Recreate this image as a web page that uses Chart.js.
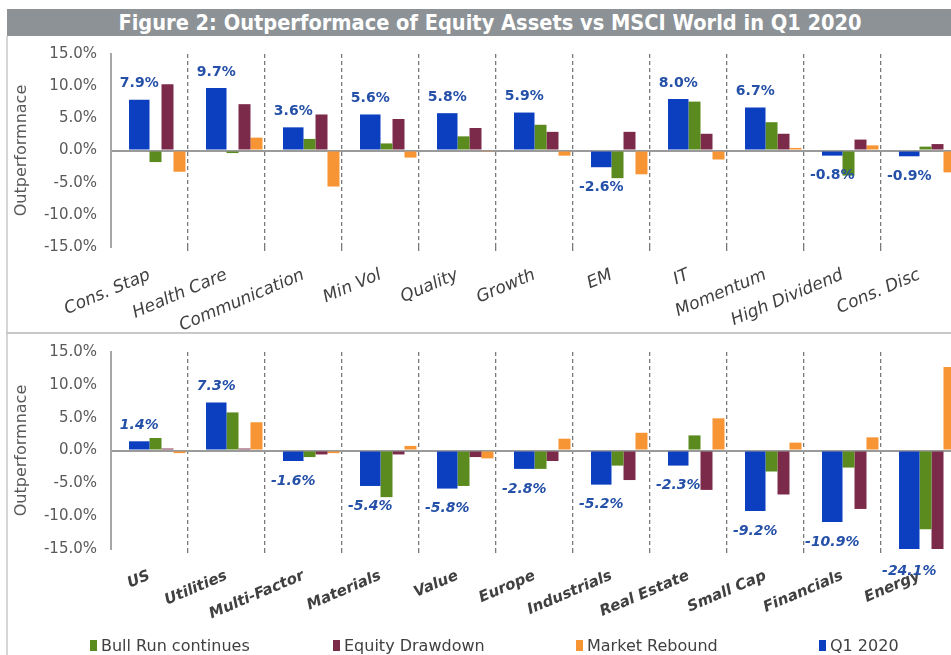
<!DOCTYPE html>
<html>
<head>
<meta charset="utf-8">
<script src="https://cdn.jsdelivr.net/npm/chart.js@4.4.1/dist/chart.umd.min.js"></script>
<style>
  html, body { margin: 0; padding: 0; background: #fff; width: 951px; height: 655px; overflow: hidden; position: relative; }
  #title { position: absolute; left: 7px; top: 9px; width: 966px; height: 27px; background: #8c9296; color: #fff;
           font: bold 21.6px "DejaVu Sans Condensed", "DejaVu Sans", sans-serif; text-align: center; line-height: 27px; }
  #leftline { position: absolute; left: 6px; top: 36px; width: 2px; height: 619px; background: #d6d6d6; }
  #divider { position: absolute; left: 6px; top: 332px; width: 945px; height: 2px; background: #c8c8c8; }
  canvas { position: absolute; left: 7px; }
  #topChart { top: 31px; }
  #bottomChart { top: 329px; }
  #legend { position: absolute; left: 90px; top: 636px; display: flex; }
  .item { width: 243px; display: flex; align-items: center; font: 16px "DejaVu Sans", sans-serif; color: #404040; }
  .box { width: 7px; height: 11px; margin-right: 4px; }
</style>
</head>
<body>
<div id="title">Figure 2: Outperformace of Equity Assets vs MSCI World in Q1 2020</div>
<div id="leftline"></div>
<div id="divider"></div>
<canvas id="topChart" width="951" height="302"></canvas>
<canvas id="bottomChart" width="951" height="300"></canvas>
<div id="legend"></div>
<script>
// series
const seriesNames = ['Q1 2020', 'Bull Run continues', 'Equity Drawdown', 'Market Rebound'];
const seriesColors = ['#0b3fc0', '#5b8a1f', '#7c2a49', '#f79433'];
const legendOrder = [1, 2, 3, 0];

// top panel
const topCats = ['Cons. Stap', 'Health Care', 'Communication', 'Min Vol', 'Quality', 'Growth', 'EM', 'IT', 'Momentum', 'High Dividend', 'Cons. Disc'];
const topQ1 = [7.9, 9.7, 3.6, 5.6, 5.8, 5.9, -2.6, 8.0, 6.7, -0.8, -0.9];
const topBull = [-1.8, -0.4, 1.8, 1.1, 2.2, 4.0, -4.3, 7.6, 4.4, -3.9, 0.6];
const topDrawdown = [10.3, 7.2, 5.6, 4.9, 3.5, 2.9, 2.9, 2.6, 2.6, 1.7, 1.0];
const topRebound = [-3.3, 2.0, -5.6, -1.1, -0.2, -0.8, -3.7, -1.4, 0.4, 0.8, -3.4];

// bottom panel
const bottomCats = ['US', 'Utilities', 'Multi-Factor', 'Materials', 'Value', 'Europe', 'Industrials', 'Real Estate', 'Small Cap', 'Financials', 'Energy'];
const bottomQ1 = [1.4, 7.3, -1.6, -5.4, -5.8, -2.8, -5.2, -2.3, -9.2, -10.9, -24.1];
const bottomBull = [1.9, 5.8, -1.0, -7.1, -5.4, -2.8, -2.3, 2.3, -3.2, -2.6, -12.0];
const bottomDrawdown = [0.3, 0.3, -0.6, -0.6, -1.0, -1.6, -4.5, -6.0, -6.7, -8.9, -15.6];
const bottomRebound = [-0.4, 4.3, -0.4, 0.7, -1.2, 1.8, 2.7, 4.9, 1.2, 2.0, 12.7];

const yTicks = [-15, -10, -5, 0, 5, 10, 15];

// draws the Q1 2020 value above / below each blue bar
const q1Labels = {
  id: 'q1Labels',
  afterDatasetsDraw(chart, args, opts) {
    const ctx = chart.ctx;
    const area = chart.chartArea;
    chart.data.datasets.forEach((ds, i) => {
      if (!ds.isQ1) return;
      const meta = chart.getDatasetMeta(i);
      ctx.save();
      ctx.fillStyle = '#2450a8';
      ctx.font = opts.font;
      ctx.textAlign = 'center';
      meta.data.forEach((bar, j) => {
        const v = ds.data[j];
        const txt = v.toFixed(1) + '%';
        if (v >= 0) {
          ctx.textBaseline = 'bottom';
          ctx.fillText(txt, bar.x, bar.y - 9);
        } else {
          ctx.textBaseline = 'top';
          ctx.fillText(txt, bar.x, Math.min(bar.y, area.bottom + 2) + 13);
        }
      });
      ctx.restore();
    });
  }
};

// Q1 bar sits on axis 'x' (left half of the group, wider),
// the three scenarios share one slot on axis 'x2' and are spread by their percentages
function buildChart(id, cats, q1, bull, drawdown, rebound, tickFont, labelFont, axisH) {
  new Chart(document.getElementById(id), {
    type: 'bar',
    data: {
      labels: cats,
      datasets: [
        { label: seriesNames[0], data: q1, backgroundColor: seriesColors[0], isQ1: true,
          xAxisID: 'x', stack: 'q1', categoryPercentage: 0.532, barPercentage: 1 },
        { label: seriesNames[1], data: bull, backgroundColor: seriesColors[1],
          xAxisID: 'x2', stack: 'scen', categoryPercentage: 0.312, barPercentage: 1 },
        { label: seriesNames[2], data: drawdown, backgroundColor: seriesColors[2],
          xAxisID: 'x2', stack: 'scen', categoryPercentage: 0.935, barPercentage: 1 / 3 },
        { label: seriesNames[3], data: rebound, backgroundColor: seriesColors[3],
          xAxisID: 'x2', stack: 'scen', categoryPercentage: 1.558, barPercentage: 0.2 }
      ]
    },
    options: {
      responsive: false,
      animation: false,
      layout: { padding: 0 },
      plugins: {
        legend: { display: false },
        tooltip: { enabled: false },
        q1Labels: { font: labelFont }
      },
      scales: {
        x: {
          offset: true,
          grid: {
            offset: true,
            color: c => c.index === 0 ? 'transparent' : '#7a7a7a',
            lineWidth: 1.3,
            tickLength: 6,
            tickBorderDash: [4, 3]
          },
          border: { display: false, dash: [4, 3] },
          ticks: { autoSkip: false, minRotation: 23, maxRotation: 23, color: '#404040', font: tickFont, padding: 12 },
          afterFit: s => { s.height = axisH; s.paddingLeft = 0; s.paddingRight = 0; }
        },
        x2: { display: false, offset: true, grid: { display: false } },
        y: {
          min: -15,
          max: 15,
          stacked: false,
          afterBuildTicks: s => { s.ticks = yTicks.map(v => ({ value: v })); },
          ticks: { callback: v => v.toFixed(1) + '%', color: '#595959', font: { family: 'DejaVu Sans', size: 15 }, padding: 14 },
          grid: { drawTicks: false, color: c => c.tick && c.tick.value === 0 ? '#9a9a9a' : 'transparent', lineWidth: 2 },
          border: { display: true, color: '#a6a6a6', width: 2 },
          title: { display: true, text: 'Outperformnace', color: '#595959', font: { family: 'DejaVu Sans', size: 16 }, padding: { top: 5, bottom: 0 } },
          afterFit: s => { s.width = 104; }
        }
      }
    },
    plugins: [q1Labels]
  });
}

buildChart('topChart', topCats, topQ1, topBull, topDrawdown, topRebound,
  { family: 'DejaVu Sans', size: 17, style: 'italic' }, 'bold 14px "DejaVu Sans"', 86);
buildChart('bottomChart', bottomCats, bottomQ1, bottomBull, bottomDrawdown, bottomRebound,
  { family: 'DejaVu Sans', size: 15, style: 'italic', weight: 'bold' }, 'italic bold 14px "DejaVu Sans"', 80);

// shared legend under both panels
const legend = document.getElementById('legend');
legendOrder.forEach(i => {
  const item = document.createElement('div');
  item.className = 'item';
  const box = document.createElement('span');
  box.className = 'box';
  box.style.background = seriesColors[i];
  item.appendChild(box);
  item.appendChild(document.createTextNode(seriesNames[i]));
  legend.appendChild(item);
});
</script>
</body>
</html>
